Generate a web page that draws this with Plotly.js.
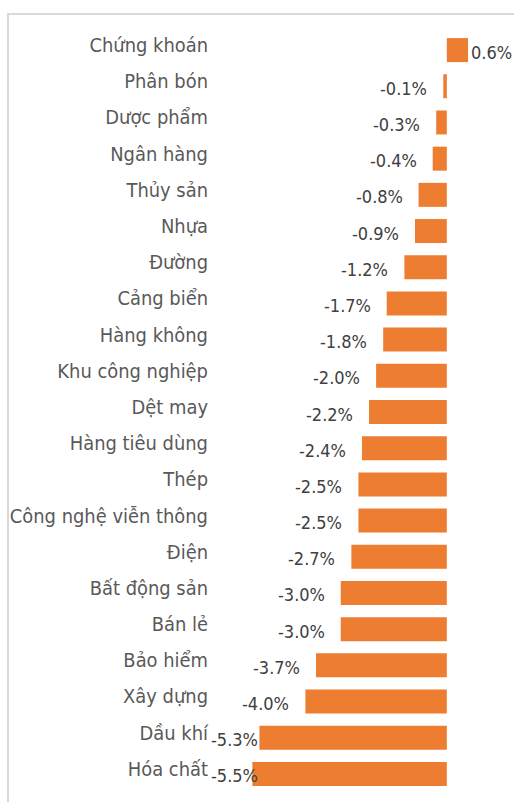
<!DOCTYPE html>
<html>
<head>
<meta charset="utf-8">
<script src="https://cdn.plot.ly/plotly-3.0.1.min.js"></script>
<style>
  html, body { margin: 0; padding: 0; background: #fff; overflow: hidden; }
  #wrap { position: relative; width: 514px; height: 802px; }
  #chart { position: absolute; left: 0; top: 0; width: 514px; height: 802px; }
  #frame { position: absolute; left: 7px; top: 13px; width: 600px; height: 900px;
           border-left: 2px solid #d9d9d9; border-top: 2px solid #d9d9d9; pointer-events: none; }
</style>
</head>
<body>
<div id="wrap">
  <div id="chart"></div>
  <div id="frame"></div>
</div>
<script>
const categories = [
  "Chứng khoán", "Phân bón", "Dược phẩm", "Ngân hàng", "Thủy sản", "Nhựa", "Đường",
  "Cảng biển", "Hàng không", "Khu công nghiệp", "Dệt may", "Hàng tiêu dùng", "Thép",
  "Công nghệ viễn thông", "Điện", "Bất động sản", "Bán lẻ", "Bảo hiểm", "Xây dựng",
  "Dầu khí", "Hóa chất"
];
const values = [
  0.6, -0.1, -0.3, -0.4, -0.8, -0.9, -1.2,
  -1.7, -1.8, -2.0, -2.2, -2.4, -2.5,
  -2.5, -2.7, -3.0, -3.0, -3.7, -4.0,
  -5.3, -5.5
];

const LABEL_MIN = -4.9;   // Excel keeps labels inside the plot area
const FONT = "DejaVu Sans Condensed, DejaVu Sans, sans-serif";

const annotations = values.map((v, i) => {
  const neg = v < 0;
  return {
    x: neg ? Math.max(v, LABEL_MIN) : v,
    y: categories[i],
    xref: 'x', yref: 'y',
    text: v.toFixed(1) + '%',
    showarrow: false,
    xanchor: neg ? 'right' : 'left',
    yanchor: 'middle',
    xshift: neg ? -14 : 1,
    yshift: -2,
    font: { family: FONT, size: 18, color: '#404040' }
  };
});

const trace = {
  type: 'bar',
  orientation: 'h',
  x: values,
  y: categories,
  marker: { color: '#ED7D31' },
  hoverinfo: 'skip'
};

const layout = {
  width: 514, height: 802,
  margin: { l: 217, r: 0, t: 32, b: 10 },
  paper_bgcolor: 'rgba(0,0,0,0)',
  plot_bgcolor: 'rgba(0,0,0,0)',
  bargap: 0.337,
  showlegend: false,
  xaxis: {
    range: [-6.5, 1.9],
    showticklabels: false, showgrid: false, zeroline: false, showline: false, ticks: ''
  },
  yaxis: {
    type: 'category',
    autorange: 'reversed',
    showgrid: false, zeroline: false, showline: false, ticks: '',
    ticklabelstandoff: 8,
    ticklabelshift: 5,
    tickfont: { family: FONT, size: 19.9, color: '#595959' }
  },
  annotations: annotations
};

Plotly.newPlot('chart', [trace], layout, { displayModeBar: false, staticPlot: true });
</script>
</body>
</html>
